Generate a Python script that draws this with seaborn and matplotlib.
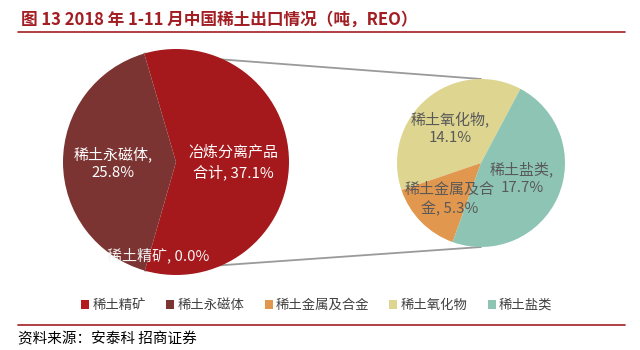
import numpy as np
import matplotlib
matplotlib.use("Agg")
import matplotlib.pyplot as plt
from matplotlib.patches import Patch
from matplotlib.lines import Line2D
import seaborn as sns

# ---- data ----
main_labels = ["冶炼分离产品\n合计", "稀土永磁体", "稀土精矿"]
main_values = [37.1, 25.8, 0.0]
sub_labels = ["稀土氧化物", "稀土金属及合金", "稀土盐类"]
sub_values = [14.1, 5.3, 17.7]
legend_labels = ["稀土精矿", "稀土永磁体", "稀土金属及合金", "稀土氧化物", "稀土盐类"]
title = "图 13 2018 年 1-11 月中国稀土出口情况（吨，REO）"
source = "资料来源：安泰科 招商证券"

sns.set_theme(style="white")
plt.rcParams['font.family'] = ['Noto Sans CJK SC', 'DejaVu Sans']

red = "#A5181C"
legend_red = "#B31B1F"
brown = "#7B3432"
orange = "#E2974E"
yellow = "#DDD590"
teal = "#8DC4B4"
palette = sns.color_palette([legend_red, brown, orange, yellow, teal])

W, H = 640, 350
fig = plt.figure(figsize=(6.4, 3.5), dpi=100)
ax = fig.add_axes([0, 0, 1, 1])

# left pie
c1 = (176, 188)
r1 = 113
start1 = -106
ax.pie(main_values, colors=[red, brown, legend_red], startangle=start1, counterclock=True,
       center=c1, radius=r1, frame=True, wedgeprops=dict(linewidth=0), normalize=True)

# right pie
c2 = (481, 187)
r2 = 84
ax.pie(sub_values, colors=[yellow, orange, teal], startangle=62, counterclock=True,
       center=c2, radius=r2, frame=True, wedgeprops=dict(linewidth=0))
ax.set_xlim(0, W)
ax.set_ylim(0, H)
ax.set_aspect("equal")
ax.axis("off")

# connector lines from the split slice edges to the second pie
span = 360 * main_values[0] / sum(main_values)
a_top = np.deg2rad(start1 + span)
a_bot = np.deg2rad(start1)
p_top = (c1[0] + r1 * np.cos(a_top), c1[1] + r1 * np.sin(a_top))
p_bot = (c1[0] + r1 * np.cos(a_bot), c1[1] + r1 * np.sin(a_bot))
ax.plot([p_top[0], c2[0]], [p_top[1], c2[1] + r2], color="#9A9A9A", lw=1.3, zorder=0)
ax.plot([p_bot[0], c2[0]], [p_bot[1], c2[1] - r2], color="#9A9A9A", lw=1.3, zorder=0)

# labels
fs = 10.8
ax.text(113, H - 163, f"{main_labels[1]},\n{main_values[1]:.1f}%", color="white",
        ha="center", va="center", fontsize=fs, linespacing=1.35)
ax.text(233, H - 163, f"{main_labels[0]}, {main_values[0]:.1f}%", color="white",
        ha="center", va="center", fontsize=fs, linespacing=1.35)
ax.text(158, H - 255, f"{main_labels[2]}, {main_values[2]:.1f}%", color="#F2F2F2",
        ha="center", va="center", fontsize=fs)
gray = "#595959"
ax.text(450, H - 128, f"{sub_labels[0]},\n{sub_values[0]:.1f}%", color=gray,
        ha="center", va="center", fontsize=fs, linespacing=1.35)
ax.text(522, H - 178, f"{sub_labels[2]},\n{sub_values[2]:.1f}%", color=gray,
        ha="center", va="center", fontsize=fs, linespacing=1.35)
ax.text(450, H - 199, f"稀土金属及合\n金, {sub_values[1]:.1f}%", color=gray,
        ha="center", va="center", fontsize=fs, linespacing=1.35)

# title & rules
fig.text(21 / W, 1 - 20 / H, title, color="#A31E22", fontsize=12, fontweight="bold",
         ha="left", va="center")
fig.add_artist(Line2D([18 / W, 625 / W], [1 - 32 / H] * 2, color="#A31E22", lw=1.2))
fig.add_artist(Line2D([18 / W, 625 / W], [1 - 325 / H] * 2, color="#A31E22", lw=1.2))
fig.text(18 / W, 1 - 339 / H, source, color="black", fontsize=10.5, ha="left", va="center")

# legend
handles = [Patch(facecolor=c, edgecolor="none") for c in palette]
fig.legend(handles, legend_labels, loc="center", bbox_to_anchor=(317 / W, 1 - 305 / H), ncol=5,
           frameon=False, fontsize=9.6, handlelength=0.6, handleheight=0.6,
           handletextpad=0.25, columnspacing=1.5, labelcolor="#404040")

fig.savefig("out.png", dpi=100)
